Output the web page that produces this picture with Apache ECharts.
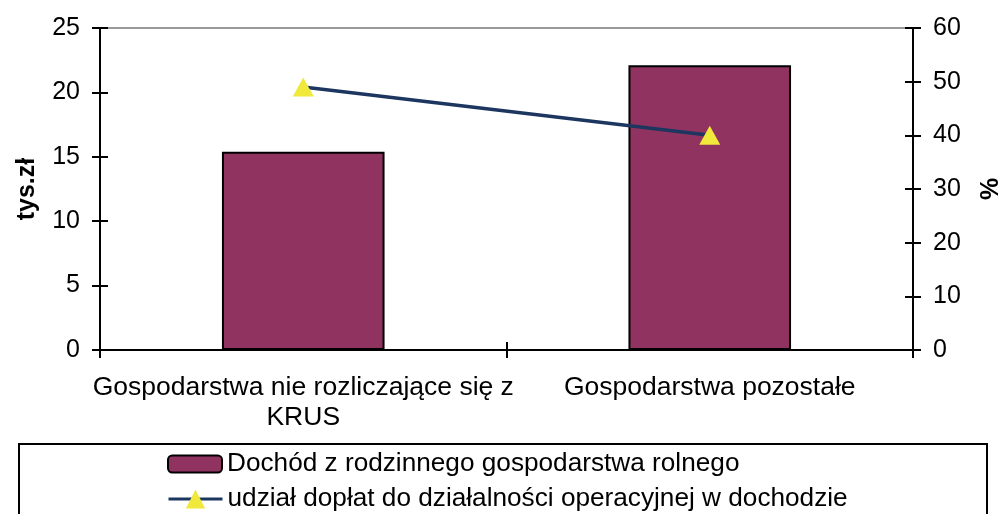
<!DOCTYPE html>
<html>
<head>
<meta charset="utf-8">
<script src="https://cdn.jsdelivr.net/npm/echarts@6/dist/echarts.min.js"></script>
<style>
  html, body { margin: 0; padding: 0; background: #fff; }
</style>
</head>
<body>
<div id="chart" style="width:998px;height:514px"></div>
<script>
var categories = ['Gospodarstwa nie rozliczające się z\nKRUS', 'Gospodarstwa pozostałe'];
var incomeValues = [15.4, 22.1];
var shareValues = [49, 40];
var incomeName = 'Dochód z rodzinnego gospodarstwa rolnego';
var shareName = 'udział dopłat do działalności operacyjnej w dochodzie';

var font = 'Liberation Sans, Arial, sans-serif';
var myChart = echarts.init(document.getElementById('chart'));

// ticks cross the axis line in the original: grid 0 has the outside ticks, grid 1 (same box) the inside ones
function valAxis(gridIndex, pos, max, interval, withLabels, inside) {
  return {
    type: 'value',
    gridIndex: gridIndex,
    position: pos,
    min: 0,
    max: max,
    interval: interval,
    axisLine: { show: true, lineStyle: { color: '#000', width: 2 } },
    axisTick: { show: true, inside: inside, length: 8, lineStyle: { color: '#000', width: 2 } },
    axisLabel: { show: withLabels, margin: 20, color: '#000', fontSize: 25, fontFamily: font },
    splitLine: { show: false }
  };
}

function catAxis(gridIndex, withLabels, inside) {
  return {
    type: 'category',
    gridIndex: gridIndex,
    position: 'bottom',
    data: categories,
    boundaryGap: true,
    axisLine: { show: true, onZero: false, lineStyle: { color: '#000', width: 2 } },
    axisTick: { show: true, inside: inside, length: 8, lineStyle: { color: '#000', width: 2 } },
    axisLabel: { show: withLabels, margin: 23, color: '#000', fontSize: 26.5, lineHeight: 30, fontFamily: font, interval: 0 },
    splitLine: { show: false }
  };
}

var yLeft = valAxis(0, 'left', 25, 5, true, false);
yLeft.name = 'tys.zł';
yLeft.nameLocation = 'middle';
yLeft.nameRotate = 90;
yLeft.nameGap = 60;
yLeft.nameTextStyle = { color: '#000', fontSize: 25, fontWeight: 'bold', fontFamily: font };

var yRight = valAxis(0, 'right', 60, 10, true, false);
yRight.name = '%';
yRight.nameLocation = 'middle';
yRight.nameRotate = 90;
yRight.nameGap = 66;
yRight.nameTextStyle = { color: '#000', fontSize: 25, fontWeight: 'bold', fontFamily: font };

var gridBox = { left: 100, right: 85, top: 28, bottom: 164, containLabel: false, outerBoundsMode: 'none' };

var legendText = { color: '#000', fontSize: 26.2, fontFamily: font };

var option = {
  animation: false,
  backgroundColor: '#fff',
  grid: [
    Object.assign({ show: true, borderColor: '#999', borderWidth: 2, backgroundColor: 'transparent' }, gridBox),
    Object.assign({}, gridBox)
  ],
  xAxis: [
    catAxis(0, true, false),
    catAxis(1, false, true)
  ],
  yAxis: [
    yLeft,
    yRight,
    valAxis(1, 'left', 25, 5, false, true),
    valAxis(1, 'right', 60, 10, false, true)
  ],
  legend: [
    {
      left: 162, top: 446,
      itemWidth: 54, itemHeight: 17,
      textStyle: legendText,
      data: [incomeName]
    },
    {
      left: 162, top: 481,
      itemWidth: 54, itemHeight: 24,
      lineStyle: { width: 3 },
      textStyle: legendText,
      data: [shareName]
    }
  ],
  graphic: [{
    type: 'rect',
    shape: { x: 19, y: 444, width: 968, height: 100 },
    style: { fill: 'none', stroke: '#000', lineWidth: 2 },
    z: -1
  }],
  series: [
    {
      name: incomeName,
      type: 'bar',
      xAxisIndex: 0,
      yAxisIndex: 0,
      data: incomeValues,
      barCategoryGap: '60%',
      itemStyle: { color: '#913360', borderColor: '#000', borderWidth: 2 }
    },
    {
      name: shareName,
      type: 'line',
      xAxisIndex: 0,
      yAxisIndex: 1,
      data: shareValues,
      symbol: 'triangle',
      symbolSize: [21, 19],
      lineStyle: { color: '#1c3660', width: 3.5 },
      itemStyle: { color: '#f0e83a', borderWidth: 0 },
      z: 5
    }
  ]
};

myChart.setOption(option);
</script>
</body>
</html>
